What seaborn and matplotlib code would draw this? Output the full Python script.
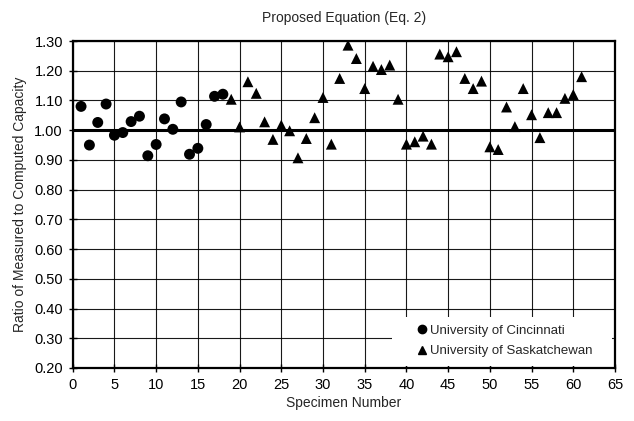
import pandas as pd
import numpy as np
import matplotlib
matplotlib.use("Agg")
import matplotlib.pyplot as plt
import seaborn as sns
from matplotlib.patches import Rectangle

# Dados
cin_specimen = list(range(1, 19))
cin_ratio = [1.08, 0.95, 1.026, 1.088, 0.983, 0.992, 1.029, 1.047, 0.914, 0.952,
             1.038, 1.003, 1.095, 0.919, 0.939, 1.019, 1.114, 1.121]

sask_specimen = list(range(19, 62))
sask_ratio = [1.104, 1.011, 1.163, 1.124, 1.028, 0.969, 1.017, 0.998, 0.907, 0.972,
              1.042, 1.11, 0.953, 1.174, 1.286, 1.241, 1.14, 1.215, 1.204, 1.219,
              1.104, 0.953, 0.961, 0.98, 0.953, 1.256, 1.247, 1.264, 1.174, 1.14,
              1.165, 0.944, 0.935, 1.078, 1.012, 1.14, 1.052, 0.975, 1.059, 1.059,
              1.107, 1.12, 1.18]

cin_label = "University of Cincinnati"
sask_label = "University of Saskatchewan"

df = pd.DataFrame({
    "specimen": cin_specimen + sask_specimen,
    "ratio": cin_ratio + sask_ratio,
    "source": [cin_label] * len(cin_specimen) + [sask_label] * len(sask_specimen),
})

sns.set_style("ticks")
plt.rcParams["font.family"] = ["Liberation Sans", "DejaVu Sans"]

fig = plt.figure(figsize=(6.34, 4.21), dpi=100)
ax = fig.add_axes([0.1147, 0.1259, 0.8553, 0.7767])

sns.scatterplot(data=df, x="specimen", y="ratio", style="source",
                markers={cin_label: "o", sask_label: "^"},
                color="black", edgecolor="none", s=62, ax=ax, legend=False, zorder=4)

ax.set_xlim(0, 65)
ax.set_ylim(0.2, 1.3)
ax.set_xticks(np.arange(0, 66, 5))
ax.set_yticks(np.arange(0.2, 1.31, 0.1))
ax.set_yticklabels([f"{v:.2f}" for v in np.arange(0.2, 1.31, 0.1)])
ax.grid(True, color="black", linewidth=0.8, alpha=0.9)
ax.set_axisbelow(True)
ax.axhline(1.0, color="black", linewidth=2.2, zorder=3)

for sp in ax.spines.values():
    sp.set_linewidth(1.6)
    sp.set_color("black")
    sp.set_visible(True)

ax.tick_params(direction="inout", length=6, width=1, colors="black", labelsize=10.5)
ax.tick_params(axis="y", pad=4)
ax.tick_params(axis="x", pad=4)

ax.set_title("Proposed Equation (Eq. 2)", fontsize=10, pad=14)
ax.set_xlabel("Specimen Number", fontsize=10, labelpad=3)
ax.set_ylabel("Ratio of Measured to Computed Capacity", fontsize=10, labelpad=5)

# caixa branca da legenda
ax.add_patch(Rectangle((0.589, 0.006), 0.405, 0.15, transform=ax.transAxes,
                       facecolor="white", edgecolor="none", zorder=3.5))
h1 = plt.Line2D([], [], marker="o", color="black", linestyle="none", markersize=6)
h2 = plt.Line2D([], [], marker="^", color="black", linestyle="none", markersize=6)
leg = ax.legend([h1, h2], [cin_label, sask_label], loc="upper left",
                bbox_to_anchor=(0.61, 0.17), frameon=False, fontsize=9.5,
                handletextpad=0.1, handlelength=1.0, labelspacing=0.65)
leg.set_zorder(5)

fig.savefig("out.png", dpi=100)
